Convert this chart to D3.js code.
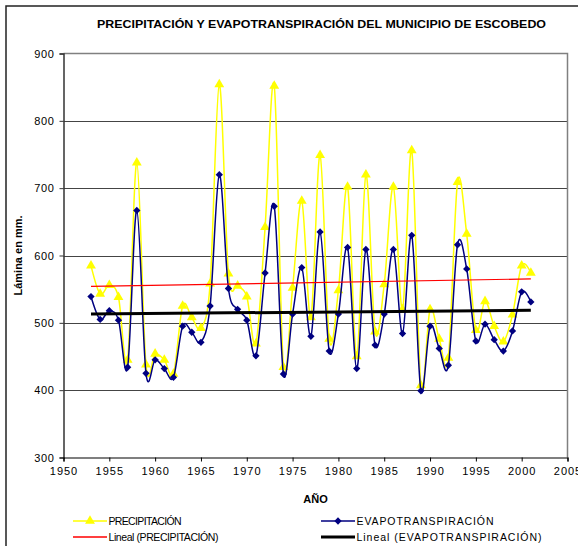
<!DOCTYPE html>
<html>
<head>
<meta charset="utf-8">
<script src="https://cdn.jsdelivr.net/npm/d3@7"></script>
<style>
  html, body { margin: 0; padding: 0; background: #fff; }
  svg { display: block; font-family: Arial, "Liberation Sans", sans-serif; }
</style>
</head>
<body>
<svg id="chart" width="578" height="546"></svg>
<script>
// Annual series, 1953–2001 (mm)
const years = d3.range(1953, 2002);
const precipitacion = [
  585, 543, 556, 538, 445, 738, 438, 454, 445, 424,
  525, 508, 492, 558, 854, 573, 555, 539, 469, 642,
  852, 434, 552, 681, 508, 749, 476, 548, 702, 450,
  720, 487, 557, 702, 520, 756, 407, 520, 476, 448,
  709, 632, 489, 532, 495, 472, 512, 585, 574
];
const evapotranspiracion = [
  539, 505, 518, 504, 434, 667, 425, 445, 432, 419,
  495, 486, 471, 525, 720, 551, 520, 504, 451, 574,
  673, 424, 513, 582, 480, 635, 458, 513, 612, 432,
  609, 467, 513, 609, 484, 630, 399, 495, 462, 437,
  616, 580, 473, 498, 475, 458, 488, 546, 531
];
const xTicks = d3.range(1950, 2006, 5);
const yTicks = d3.range(300, 901, 100);

const titleText = "PRECIPITACIÓN Y EVAPOTRANSPIRACIÓN DEL MUNICIPIO DE ESCOBEDO";
const xTitle = "AÑO";
const yTitle = "Lámina en mm.";
const legendLabels = ["PRECIPITACIÓN", "EVAPOTRANSPIRACIÓN", "Lineal (PRECIPITACIÓN)", "Lineal (EVAPOTRANSPIRACIÓN)"];

const svg = d3.select("#chart");
const plot = { left: 63.5, top: 53.5, right: 567.5, bottom: 457.5 };

const x = d3.scaleLinear().domain([1950, 2005]).range([plot.left, plot.right]);
const y = d3.scaleLinear().domain([300, 900]).range([plot.bottom, plot.top]);

// outer chart frame
svg.append("rect")
  .attr("x", 6).attr("y", 6).attr("width", 600).attr("height", 600)
  .attr("fill", "none").attr("stroke", "#222").attr("stroke-width", 1.5);

// title
svg.append("text")
  .attr("x", 97).attr("y", 28)
  .attr("font-size", 11).attr("font-weight", "bold")
  .attr("textLength", 449).attr("lengthAdjust", "spacingAndGlyphs")
  .text(titleText);

// gridlines
svg.append("g").selectAll("line")
  .data(yTicks.filter(v => v > 300 && v < 900))
  .join("line")
  .attr("x1", plot.left).attr("x2", plot.right)
  .attr("y1", d => Math.round(y(d)) + 0.5).attr("y2", d => Math.round(y(d)) + 0.5)
  .attr("stroke", "#444").attr("stroke-width", 1);

// plot frame (top / right)
svg.append("path")
  .attr("d", `M${plot.left},${plot.top}H${plot.right}V${plot.bottom}`)
  .attr("fill", "none").attr("stroke", "#808080").attr("stroke-width", 1.5);

// axes
const yAxis = d3.axisLeft(y).tickValues(yTicks).tickSize(4).tickPadding(5);
const gy = svg.append("g").attr("transform", `translate(${plot.left},0)`).call(yAxis);
gy.select(".domain").attr("stroke", "#333").attr("stroke-width", 1.5);
gy.selectAll("line").attr("stroke", "#333");
gy.selectAll("text").attr("font-size", 11).attr("fill", "#000")
  .attr("font-family", "Arial, 'Liberation Sans', sans-serif")
  .attr("letter-spacing", 0.6);

const xAxis = d3.axisBottom(x).tickValues(xTicks).tickFormat(d3.format("d")).tickSize(4).tickPadding(6);
const gx = svg.append("g").attr("transform", `translate(0,${plot.bottom})`).call(xAxis);
gx.select(".domain").attr("stroke", "#000").attr("stroke-width", 1.2);
gx.selectAll("line").attr("stroke", "#000");
gx.selectAll("text").attr("font-size", 11).attr("fill", "#000")
  .attr("font-family", "Arial, 'Liberation Sans', sans-serif")
  .attr("letter-spacing", 1);

// axis titles
svg.append("text")
  .attr("x", (plot.left + plot.right) / 2).attr("y", 503)
  .attr("text-anchor", "middle").attr("font-size", 11).attr("font-weight", "bold")
  .text(xTitle);
svg.append("text")
  .attr("transform", `translate(22,${(plot.top + plot.bottom) / 2}) rotate(-90)`)
  .attr("text-anchor", "middle").attr("font-size", 11).attr("font-weight", "bold")
  .text(yTitle);

// least-squares trend line
function trend(values) {
  const n = values.length;
  const mx = d3.mean(years), my = d3.mean(values);
  let sxy = 0, sxx = 0;
  for (let i = 0; i < n; i++) {
    sxy += (years[i] - mx) * (values[i] - my);
    sxx += (years[i] - mx) ** 2;
  }
  const b = sxy / sxx, a = my - b * mx;
  return [years[0], years[n - 1]].map(t => [t, a + b * t]);
}

const smooth = d3.line()
  .x((d, i) => x(years[i])).y(d => y(d))
  .curve(d3.curveCardinal.tension(0));

const tri = d3.symbol().type(d3.symbolTriangle).size(42);
const dia = d3.symbol().type(d3.symbolDiamond2).size(34);

// precipitation series
svg.append("path").datum(precipitacion)
  .attr("d", smooth).attr("fill", "none")
  .attr("stroke", "#FFFF00").attr("stroke-width", 1.5);
svg.append("g").selectAll("path").data(precipitacion).join("path")
  .attr("d", tri)
  .attr("transform", (d, i) => `translate(${x(years[i])},${y(d)})`)
  .attr("fill", "#FFFF00");

// evapotranspiration series
svg.append("path").datum(evapotranspiracion)
  .attr("d", smooth).attr("fill", "none")
  .attr("stroke", "#000080").attr("stroke-width", 1.5);
svg.append("g").selectAll("path").data(evapotranspiracion).join("path")
  .attr("d", dia)
  .attr("transform", (d, i) => `translate(${x(years[i])},${y(d)})`)
  .attr("fill", "#000080");

// trend lines
const straight = d3.line().x(d => x(d[0])).y(d => y(d[1]));
svg.append("path").datum(trend(precipitacion))
  .attr("d", straight).attr("stroke", "#FF0000").attr("stroke-width", 1.2).attr("fill", "none");
svg.append("path").datum(trend(evapotranspiracion))
  .attr("d", straight).attr("stroke", "#000").attr("stroke-width", 3).attr("fill", "none");

// legend
const legend = [
  { x: 73, y: 521, color: "#FFFF00", w: 1.5, sym: tri, len: 73 },
  { x: 321, y: 521, color: "#000080", w: 1.5, sym: dia, len: 137 },
  { x: 73, y: 537, color: "#FF0000", w: 1.5, sym: null, len: 110 },
  { x: 321, y: 537, color: "#000000", w: 3, sym: null, len: 185 }
];
const lg = svg.append("g").selectAll("g").data(legend).join("g")
  .attr("transform", d => `translate(${d.x},${d.y})`);
lg.append("rect").attr("x", 0).attr("width", 34)
  .attr("y", d => -d.w / 2).attr("height", d => d.w)
  .attr("fill", d => d.color);
lg.filter(d => d.sym).append("path")
  .attr("d", d => d.sym()).attr("transform", "translate(17,0)")
  .attr("fill", d => d.color);
lg.append("text").attr("x", 35.5).attr("y", 4)
  .attr("font-size", 10.5)
  .attr("textLength", d => d.len).attr("lengthAdjust", "spacing")
  .text((d, i) => legendLabels[i]);
</script>
</body>
</html>
